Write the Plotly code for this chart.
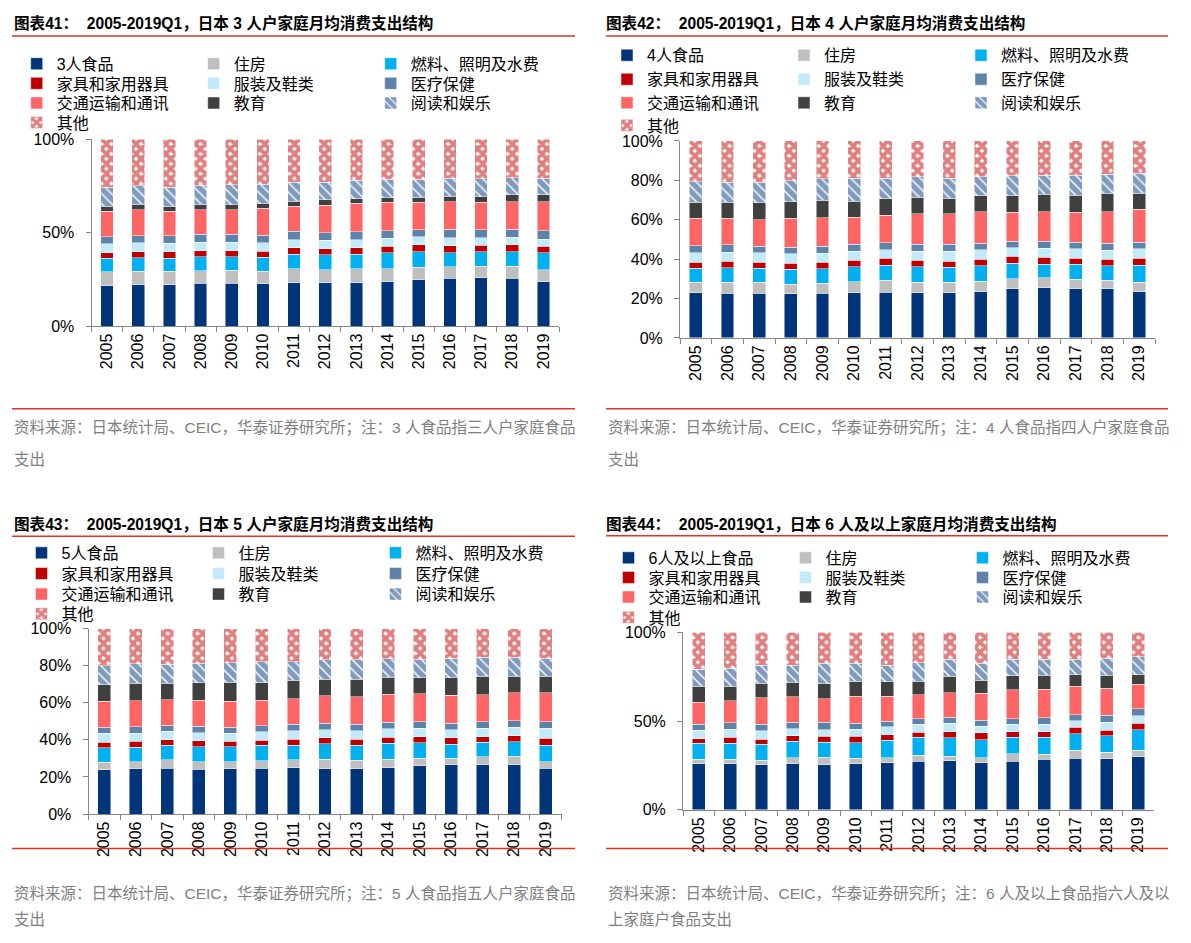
import plotly.graph_objects as go

# ---------------- data (shares, %) ----------------
years = ["2005", "2006", "2007", "2008", "2009", "2010", "2011", "2012",
         "2013", "2014", "2015", "2016", "2017", "2018", "2019"]

common_names = ["住房", "燃料、照明及水费", "家具和家用器具", "服装及鞋类", "医疗保健",
                "交通运输和通讯", "教育", "阅读和娱乐", "其他"]
food_names = ["3人食品", "4人食品", "5人食品", "6人及以上食品"]

# 图表41: 3-person households
p41_food = [21.7, 22.2, 22.2, 22.9, 22.9, 22.6, 23.3, 23.3, 23.3, 23.8, 24.7, 25.5, 25.9, 25.5, 23.8]
p41_housing = [7.5, 7.2, 7.2, 6.6, 7.0, 6.8, 7.3, 6.9, 7.3, 7.0, 6.9, 6.3, 6.1, 6.5, 6.3]
p41_fuel = [7.0, 7.3, 7.0, 7.7, 7.2, 7.5, 7.9, 7.9, 7.9, 8.4, 8.1, 7.5, 7.9, 7.7, 9.2]
p41_furniture = [3.1, 3.2, 3.3, 3.2, 3.3, 3.1, 3.5, 3.3, 3.5, 3.5, 3.8, 3.7, 3.3, 3.8, 3.4]
p41_clothing = [4.8, 4.7, 4.7, 4.5, 4.4, 4.6, 4.3, 4.4, 4.3, 4.2, 4.2, 4.2, 4.0, 3.9, 3.8]
p41_medical = [3.8, 3.8, 4.0, 4.2, 4.2, 4.0, 4.4, 4.2, 4.2, 4.1, 3.9, 4.5, 4.4, 4.3, 4.5]
p41_transport = [13.5, 13.8, 13.0, 13.1, 13.2, 14.3, 13.5, 14.7, 15.1, 15.1, 14.7, 14.9, 14.7, 14.9, 15.6]
p41_education = [2.8, 3.0, 2.8, 3.0, 2.8, 2.5, 2.6, 2.8, 2.6, 2.6, 2.6, 2.8, 2.8, 3.7, 3.7]
p41_reading = [9.9, 9.8, 10.1, 10.0, 10.5, 10.3, 10.1, 9.4, 9.9, 9.8, 9.6, 9.6, 9.6, 8.9, 8.7]
p41_other = [25.9, 25.0, 25.7, 24.8, 24.5, 24.3, 23.1, 23.1, 21.9, 21.5, 21.5, 21.0, 21.3, 20.8, 21.0]

# 图表42: 4-person households
p42_food = [22.9, 22.8, 22.8, 22.4, 22.8, 22.9, 23.3, 22.9, 22.9, 23.4, 25.1, 25.6, 25.1, 25.1, 23.4]
p42_housing = [5.3, 5.6, 5.4, 5.0, 5.1, 5.7, 6.1, 5.3, 5.3, 5.5, 5.0, 5.0, 4.6, 4.3, 4.8]
p42_fuel = [7.2, 7.3, 7.2, 7.5, 7.3, 7.6, 7.5, 8.0, 7.8, 7.8, 7.8, 6.9, 7.7, 7.3, 8.8]
p42_furniture = [3.0, 3.2, 3.1, 3.1, 3.2, 3.3, 3.5, 3.3, 3.0, 3.3, 3.5, 3.4, 3.0, 3.3, 3.4]
p42_clothing = [4.8, 4.6, 4.7, 4.7, 4.5, 4.4, 4.5, 4.4, 4.9, 4.9, 4.4, 4.6, 4.8, 4.5, 4.8]
p42_medical = [3.6, 3.8, 3.3, 3.3, 3.6, 3.6, 3.4, 3.6, 3.6, 3.3, 3.4, 3.7, 3.5, 3.7, 3.3]
p42_transport = [14.0, 13.5, 13.6, 14.8, 14.6, 13.8, 14.0, 15.6, 15.6, 15.9, 14.6, 14.9, 15.1, 15.9, 16.8]
p42_education = [8.0, 8.0, 8.5, 8.3, 8.8, 8.0, 8.3, 8.3, 7.8, 8.2, 8.5, 8.8, 8.6, 9.3, 8.1]
p42_reading = [10.4, 10.3, 10.5, 10.6, 10.8, 11.8, 10.5, 10.5, 10.2, 9.6, 10.1, 9.8, 10.2, 9.7, 10.2]
p42_other = [20.8, 20.9, 20.9, 20.3, 19.3, 18.9, 18.9, 18.1, 18.9, 18.1, 17.6, 17.3, 17.4, 16.9, 16.4]

# 图表43: 5-person households
p43_food = [23.8, 24.5, 24.7, 24.2, 24.5, 24.7, 24.9, 24.5, 24.5, 25.0, 26.1, 26.5, 26.5, 26.5, 24.7]
p43_housing = [4.1, 3.7, 4.6, 4.0, 3.7, 4.0, 4.4, 5.1, 4.4, 4.6, 4.1, 3.7, 4.4, 4.7, 3.5]
p43_fuel = [7.9, 7.8, 7.9, 8.0, 8.0, 8.3, 7.9, 8.3, 8.3, 8.7, 8.2, 7.5, 7.9, 7.8, 9.0]
p43_furniture = [3.0, 3.2, 2.8, 3.3, 3.1, 2.8, 3.2, 3.2, 3.2, 3.1, 3.4, 3.4, 3.0, 3.3, 3.7]
p43_clothing = [4.8, 4.5, 4.6, 4.4, 4.4, 4.6, 4.6, 4.4, 4.6, 4.6, 4.6, 4.4, 4.6, 4.6, 5.3]
p43_medical = [3.1, 3.4, 3.4, 3.4, 3.0, 3.2, 3.3, 3.5, 3.3, 3.4, 3.3, 3.4, 3.3, 3.4, 3.5]
p43_transport = [14.1, 13.9, 13.6, 14.1, 14.1, 13.8, 14.0, 14.7, 15.0, 15.3, 15.2, 15.1, 14.7, 15.1, 15.7]
p43_education = [8.9, 9.5, 8.9, 9.5, 10.3, 9.5, 9.8, 9.0, 9.4, 9.0, 8.6, 9.5, 9.9, 9.0, 9.0]
p43_reading = [10.2, 10.6, 10.3, 10.4, 10.6, 11.3, 10.1, 10.4, 10.4, 10.1, 9.9, 10.4, 10.2, 10.1, 9.7]
p43_other = [20.1, 18.9, 19.2, 18.7, 18.3, 17.8, 17.8, 16.9, 16.9, 16.2, 16.6, 16.1, 15.5, 15.5, 15.9]

# 图表44: 6+ person households
p44_food = [26.0, 26.0, 25.5, 26.0, 25.5, 26.0, 26.6, 27.3, 27.7, 26.6, 27.5, 28.4, 29.2, 28.8, 29.9]
p44_housing = [2.6, 2.6, 2.5, 3.5, 4.2, 3.0, 2.7, 3.5, 2.6, 2.9, 4.2, 3.0, 4.4, 3.7, 3.7]
p44_fuel = [8.9, 9.0, 8.9, 9.2, 8.5, 8.8, 10.0, 10.0, 10.3, 10.0, 9.1, 9.4, 9.4, 9.4, 11.6]
p44_furniture = [2.7, 3.2, 2.8, 3.2, 3.3, 3.7, 3.0, 2.9, 3.5, 3.9, 3.1, 3.3, 3.5, 3.1, 3.7]
p44_clothing = [4.6, 4.6, 4.8, 3.9, 3.7, 3.9, 4.6, 4.6, 4.8, 3.6, 4.3, 4.2, 3.7, 4.3, 4.2]
p44_medical = [3.4, 3.7, 3.8, 3.5, 4.1, 3.3, 3.1, 3.2, 3.3, 3.4, 3.3, 3.7, 3.5, 4.0, 3.9]
p44_transport = [12.5, 12.3, 14.8, 14.4, 13.4, 15.3, 14.0, 13.4, 13.9, 15.3, 16.2, 15.9, 15.9, 15.3, 13.7]
p44_education = [9.0, 8.3, 8.3, 8.3, 8.5, 8.5, 8.1, 7.6, 9.2, 7.4, 7.9, 7.9, 6.6, 7.2, 5.5]
p44_reading = [9.6, 10.0, 10.1, 9.5, 11.5, 10.2, 9.3, 10.5, 9.6, 9.6, 9.3, 9.1, 8.7, 9.6, 10.0]
p44_other = [20.7, 20.3, 18.5, 18.5, 17.3, 17.3, 18.6, 17.0, 15.1, 17.3, 15.1, 15.1, 15.1, 14.6, 13.8]

titles = [
    "图表41：  2005-2019Q1，日本 3 人户家庭月均消费支出结构",
    "图表42：  2005-2019Q1，日本 4 人户家庭月均消费支出结构",
    "图表43：  2005-2019Q1，日本 5 人户家庭月均消费支出结构",
    "图表44：  2005-2019Q1，日本 6 人及以上家庭月均消费支出结构",
]
sources = [
    ["资料来源：日本统计局、CEIC，华泰证券研究所；注：3 人食品指三人户家庭食品", "支出"],
    ["资料来源：日本统计局、CEIC，华泰证券研究所；注：4 人食品指四人户家庭食品", "支出"],
    ["资料来源：日本统计局、CEIC，华泰证券研究所；注：5 人食品指五人户家庭食品", "支出"],
    ["资料来源：日本统计局、CEIC，华泰证券研究所；注：6 人及以上食品指六人及以", "上家庭户食品支出"],
]

panel_data = [
    [p41_food, p41_housing, p41_fuel, p41_furniture, p41_clothing, p41_medical,
     p41_transport, p41_education, p41_reading, p41_other],
    [p42_food, p42_housing, p42_fuel, p42_furniture, p42_clothing, p42_medical,
     p42_transport, p42_education, p42_reading, p42_other],
    [p43_food, p43_housing, p43_fuel, p43_furniture, p43_clothing, p43_medical,
     p43_transport, p43_education, p43_reading, p43_other],
    [p44_food, p44_housing, p44_fuel, p44_furniture, p44_clothing, p44_medical,
     p44_transport, p44_education, p44_reading, p44_other],
]

# ---------------- styling ----------------
NAVY = "#00357A"
colors = [NAVY, "#BFBFBF", "#00B0F0", "#C00000", "#C3EAF9", "#5E83AB",
          "#FF6565", "#404040", None, None]
patterns = {
    8: dict(shape="\\", fgcolor=NAVY, bgcolor="white", size=7, solidity=0.8),
    9: dict(shape="x", fgcolor="#C00000", bgcolor="white", size=7, solidity=0.8),
}

LATIN = "Liberation Sans, Arial, Noto Sans CJK SC"
CJK = "Liberation Sans, Noto Sans CJK SC"
RED = "#E3321F"

# figure sized so that, with the browser's default 8px body margin,
# the page is exactly 1191 x 943
OFF = 8
W, H = 1191 - 2 * OFF, 943 - 2 * OFF


def px(x):
    return (x - OFF) / W


def py(y):
    return 1 - (y - OFF) / H


# page-pixel geometry of each panel
geo = [
    dict(x0=91.5, x1=559.0, ytop=133.3, ybot=324.0, dtick=50,
         tx=12, ty=15, line_y=28.5, lx0=12, lx1=575,
         leg_tx=[56.7, 233.7, 408.5], leg_y=[56.7, 76.7, 96.7, 116.5],
         bline_y=408, src_y=[428, 460]),
    dict(x0=680.0, x1=1155.0, ytop=135.3, ybot=336.0, dtick=20,
         tx=604, ty=15, line_y=28.5, lx0=606, lx1=1168,
         leg_tx=[647, 826, 1004], leg_y=[48, 72.5, 96.5, 119.5],
         bline_y=408, src_y=[428, 460]),
    dict(x0=88.5, x1=561.5, ytop=632.0, ybot=821.0, dtick=20,
         tx=12, ty=525, line_y=538, lx0=12, lx1=575,
         leg_tx=[61.5, 237.7, 414.6], leg_y=[555, 576, 597, 617],
         bline_y=856, src_y=[902, 928]),
    dict(x0=683.0, x1=1154.0, ytop=636.0, ybot=816.7, dtick=50,
         tx=604, ty=525, line_y=537.5, lx0=606, lx1=1168,
         leg_tx=[648.5, 826.5, 1004.5], leg_y=[560, 580, 600, 620.7],
         bline_y=856, src_y=[902, 928]),
]

fig = go.Figure()
layout = dict(
    width=W, height=H, autosize=False,
    margin=dict(l=0, r=0, t=0, b=0, pad=0),
    paper_bgcolor="white", plot_bgcolor="white",
    barmode="stack", bargap=0.59,
    showlegend=True,
    font=dict(family=CJK, size=16, color="black"),
)

annotations = []
shapes = []

for p in range(4):
    g = geo[p]
    s = "" if p == 0 else str(p + 1)
    names = [food_names[p]] + common_names
    for i, vals in enumerate(panel_data[p]):
        row = i // 3
        leg_idx = p * 4 + row + 1
        leg_id = "legend" if leg_idx == 1 else "legend%d" % leg_idx
        if i in patterns:
            marker = dict(color="white", pattern=patterns[i],
                          line=dict(width=0.6, color="rgba(255,255,255,0.8)"))
        else:
            marker = dict(color=colors[i],
                          line=dict(width=0.6, color="rgba(255,255,255,0.8)"))
        fig.add_trace(go.Bar(
            x=years, y=vals, name=names[i], marker=marker,
            xaxis="x" + s, yaxis="y" + s, legend=leg_id,
            hovertemplate="%{x}: %{y:.1f}%<extra>" + names[i] + "</extra>",
        ))

    layout["xaxis" + s] = dict(
        domain=[px(g["x0"]), px(g["x1"])], anchor="y" + s, type="category",
        tickangle=-90, showline=True, linecolor="#868686", linewidth=1,
        ticks="outside", tickson="boundaries", ticklen=5, tickcolor="#868686",
        tickfont=dict(family=LATIN, size=16, color="black"),
        showgrid=False, zeroline=False, fixedrange=True,
    )
    layout["yaxis" + s] = dict(
        domain=[py(g["ybot"]), py(g["ytop"])], anchor="x" + s,
        range=[0, 100], dtick=g["dtick"], tick0=0, ticksuffix="%",
        showline=True, linecolor="#868686", linewidth=1,
        ticks="outside", ticklen=5, tickcolor="#868686",
        tickfont=dict(family=LATIN, size=16, color="black"),
        ticklabelstandoff=8,
        showgrid=False, zeroline=False, fixedrange=True,
    )

    for r in range(4):
        leg_idx = p * 4 + r + 1
        leg_id = "legend" if leg_idx == 1 else "legend%d" % leg_idx
        layout[leg_id] = dict(
            orientation="h", x=px(g["leg_tx"][0] - 40), xanchor="left",
            y=py(g["leg_y"][r]), yanchor="middle",
            entrywidth=132, entrywidthmode="pixels",
            bgcolor="rgba(0,0,0,0)", borderwidth=0,
            font=dict(family=CJK, size=16, color="black"),
            traceorder="normal", itemclick=False, itemdoubleclick=False,
        )

    # title
    annotations.append(dict(
        text="<b>" + titles[p] + "</b>", x=px(g["tx"]), y=py(g["ty"]),
        xref="paper", yref="paper", xanchor="left", yanchor="middle",
        showarrow=False, font=dict(family=CJK, size=15.6, color="black"),
    ))
    # source lines
    for k, t in enumerate(sources[p]):
        annotations.append(dict(
            text=t, x=px(g["lx0"]), y=py(g["src_y"][k]),
            xref="paper", yref="paper", xanchor="left", yanchor="middle",
            showarrow=False, font=dict(family=CJK, size=15.5, color="#7F7F7F"),
        ))
    # red rules
    for yy in (g["line_y"], g["bline_y"]):
        shapes.append(dict(
            type="line", xref="paper", yref="paper",
            x0=px(g["lx0"]), x1=px(g["lx1"]), y0=py(yy), y1=py(yy),
            line=dict(color=RED, width=1.5),
        ))

layout["annotations"] = annotations
layout["shapes"] = shapes
fig.update_layout(**layout)

fig.write_html("out.html", config={"displayModeBar": False})
